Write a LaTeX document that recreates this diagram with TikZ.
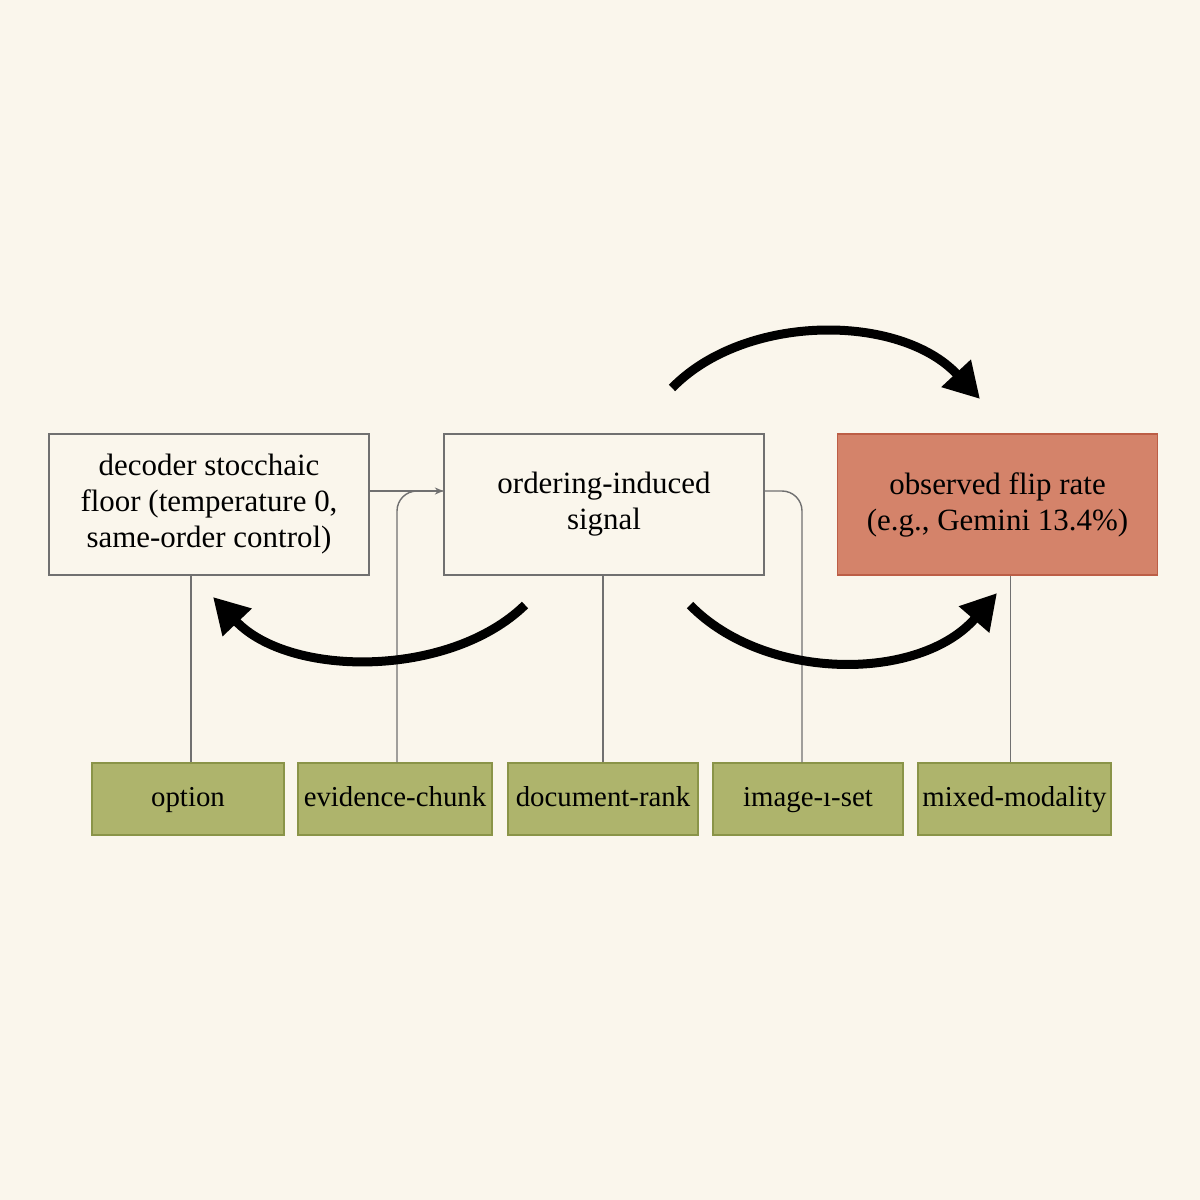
\documentclass[tikz,border=0pt]{standalone}
\usepackage{fontspec}
\setmainfont{Liberation Serif}
\usetikzlibrary{arrows.meta,calc}
\definecolor{bg}{HTML}{FAF6EC}
\definecolor{greenfill}{HTML}{AEB46C}
\definecolor{greenline}{HTML}{8A9448}
\definecolor{redfill}{HTML}{D4836A}
\definecolor{redline}{HTML}{BC5E46}
\definecolor{thinline}{HTML}{707070}
\tikzset{
  mainbox/.style={draw=thinline, line width=1pt, fill=bg, minimum width=320*0.025cm, minimum height=141*0.025cm, align=center, font=\fontsize{22}{25.6}\selectfont, inner sep=0pt},
  redbox/.style={mainbox, draw=redline, fill=redfill},
  tagbox/.style={draw=greenline, line width=1pt, fill=greenfill, minimum height=72*0.025cm, align=center, font=\fontsize{20.5}{24}\selectfont, inner sep=0pt, text height=15pt, text depth=4pt},
  thin/.style={draw=thinline, line width=1pt},
  bigarrow/.style={line width=6.4pt, -{Triangle[length=25pt,width=27pt]}},
}
\begin{document}
\begin{tikzpicture}[x=0.025cm,y=-0.025cm]
\fill[bg] (0,0) rectangle (1200,1200);
\useasboundingbox (0,0) rectangle (1200,1200);

\node[mainbox] (A) at (209,504.5) {decoder stocchaic\\floor (temperature 0,\\same-order control)};
\node[mainbox] (B) at (604,504.5) {ordering-induced\\signal};
\node[redbox] (C) at (997.5,504.5) {observed flip rate\\(e.g., Gemini 13.4\%)};

\node[tagbox, minimum width=192*0.025cm] (O) at (188,799) {option};
\node[tagbox, minimum width=194*0.025cm] (E) at (395,799) {evidence-chunk};
\node[tagbox, minimum width=190*0.025cm] (D) at (603,799) {document-rank};
\node[tagbox, minimum width=190*0.025cm] (I) at (808,799) {image-ı-set};
\node[tagbox, minimum width=193*0.025cm] (M) at (1014.5,799) {mixed-modality};

\coordinate (j) at (0,491);
\draw[thin, -{Stealth[length=6pt,width=5pt]}] (A.east |- j) -- (B.west |- j);
\draw[thin, rounded corners=20*0.025cm] ($(E.north)+(2,0)$) |- (B.west |- j);
\draw[thin, rounded corners=20*0.025cm] (B.east |- j) -| ($(I.north)+(-6,0)$);
\draw[thin] (O.north |- A.south) ++(3,0) -- ($(O.north)+(3,0)$);
\draw[thin] (D.north |- B.south) -- (D.north);
\draw[thin] ($(M.north |- C.south)+(-4,0)$) -- ($(M.north)+(-4,0)$);

\coordinate (t1) at (672,388);
\coordinate (t2) at (980,399);
\draw[bigarrow] (t1) .. controls (745,313) and (900,313) .. (t2);

\coordinate (l1) at (525,605);
\coordinate (l2) at (213,597);
\draw[bigarrow] (l1) .. controls (450,678) and (290,678) .. (l2);

\coordinate (r1) at (690,605);
\coordinate (r2) at (997,593);
\draw[bigarrow] (r1) .. controls (765,682) and (920,682) .. (r2);
\end{tikzpicture}
\end{document}
